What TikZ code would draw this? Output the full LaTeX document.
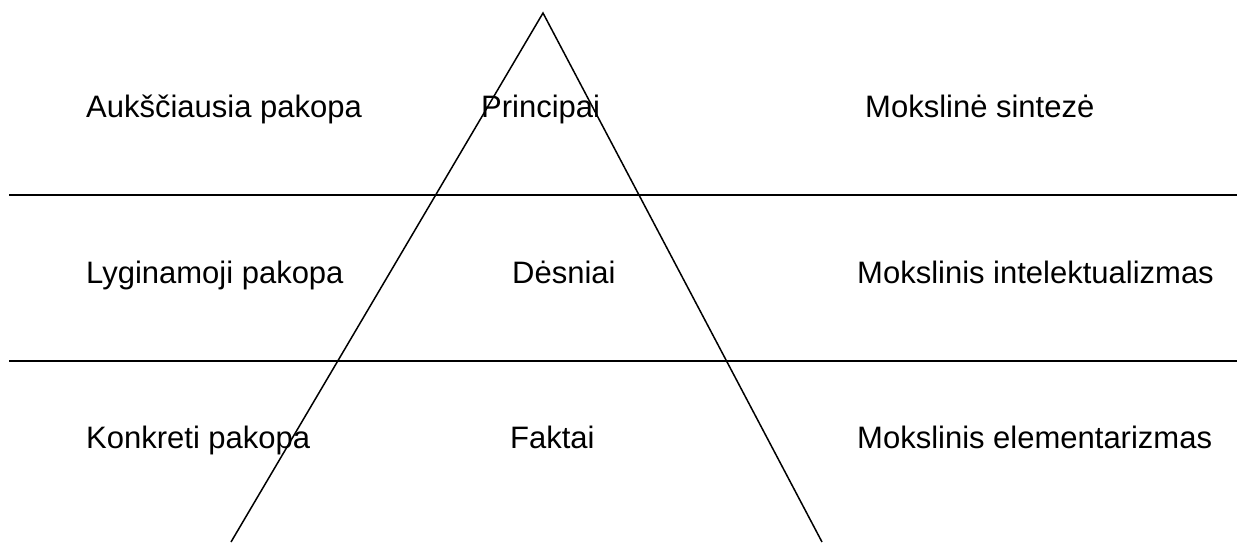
\documentclass[tikz,border=0pt]{standalone}
\usepackage{fontspec}
\setmainfont{Liberation Sans}
\begin{document}
\begin{tikzpicture}[x=1pt,y=-1pt,
  lbl/.style={anchor=base west,inner sep=0pt,font=\fontsize{31}{37}\selectfont},
  rule/.style={line width=2pt},
  side/.style={line width=1.5pt}]
\useasboundingbox (0,0) rectangle (1240,542);
\fill[white] (0,0) rectangle (1240,542);
% horizontal rules
\coordinate (r1a) at (9,195);
\coordinate (r1b) at (1237,195);
\coordinate (r2a) at (9,361);
\coordinate (r2b) at (1237,361);
\draw[rule] (r1a) -- (r1b);
\draw[rule] (r2a) -- (r2b);
% triangle
\coordinate (apex) at (543,13);
\coordinate (bl) at (231,542);
\coordinate (br) at (822,542);
\draw[side,line join=miter] (bl) -- (apex) -- (br);
% labels
\node[lbl] (a1) at (86,117) {Aukščiausia pakopa};
\node[lbl] (a2) at (481,117) {Principai};
\node[lbl] (a3) at (865,117) {Mokslinė sintezė};
\node[lbl] (b1) at (86,283) {Lyginamoji pakopa};
\node[lbl] (b2) at (512,283) {Dėsniai};
\node[lbl] (b3) at (857,283) {Mokslinis intelektualizmas};
\node[lbl] (c1) at (86,448) {Konkreti pakopa};
\node[lbl] (c2) at (510,448) {Faktai};
\node[lbl] (c3) at (857,448) {Mokslinis elementarizmas};
\end{tikzpicture}
\end{document}
